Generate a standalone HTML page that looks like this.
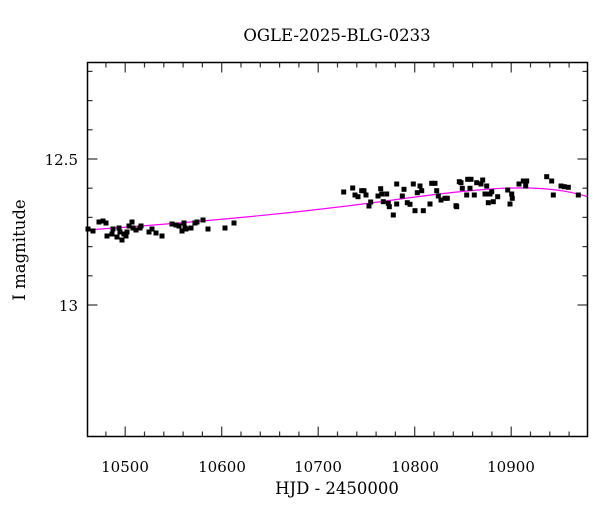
<!DOCTYPE html>
<html><head><meta charset="utf-8"><style>
html,body{margin:0;padding:0;background:#fff;}
svg{display:block;}
text{font-family:"DejaVu Serif","Liberation Serif",serif;fill:#000;}
</style></head><body>
<svg width="600" height="512" viewBox="0 0 600 512" xmlns="http://www.w3.org/2000/svg">
<rect width="600" height="512" fill="#fff"/>
<text x="337" y="41" font-size="16.5" text-anchor="middle">OGLE-2025-BLG-0233</text>
<text x="337" y="494" font-size="16.5" text-anchor="middle">HJD - 2450000</text>
<text transform="translate(25,250) rotate(-90)" font-size="16.5" text-anchor="middle">I magnitude</text>
<g font-size="15" text-anchor="middle">
<text x="125" y="472">10500</text><text x="222" y="472">10600</text><text x="318" y="472">10700</text><text x="415" y="472">10800</text><text x="511" y="472">10900</text>
</g>
<g font-size="15" text-anchor="end">
<text x="78" y="165">12.5</text><text x="78" y="311">13</text>
</g>
<g id="ticks" stroke="#333" stroke-width="1.2"></g>
<path d="M87,230 C200,222 300,213 400,199 C460,191 500,187 530,188 C560,189 575,193 587,196.5" fill="none" stroke="#ff00ff" stroke-width="1.2"/>
<g id="pts" fill="#000"></g>
<rect x="87.5" y="62.5" width="500" height="374" fill="none" stroke="#000" stroke-width="1.5"/>
</svg>
<script>
var ns="http://www.w3.org/2000/svg";
var t=document.getElementById("ticks");
function ln(x1,y1,x2,y2){var l=document.createElementNS(ns,"line");l.setAttribute("x1",x1);l.setAttribute("y1",y1);l.setAttribute("x2",x2);l.setAttribute("y2",y2);t.appendChild(l);}
for(var v=10480;v<=10970;v+=20){var x=125.2+(v-10500)*0.965;var L=(v%100==0)?10:5;ln(x,436.5,x,436.5-L);ln(x,62.5,x,62.5+L);}
for(var k=-3;k<=4;k++){var y=159+k*29.2;var L=(k==0)?10:5;ln(87.5,y,87.5+L,y);ln(587.5,y,587.5-L,y);}
ln(87.5,305,97.5,305);ln(587.5,305,577.5,305);
var P=[[88,229],[93,231],[99,222],[103,221],[106,223],[107,236],[112,234],[113,229],[117,237],[119,228],[120,232],[122,240],[124,234],[126,236],[127,232],[129,226],[132,222],[133,228],[136,230],[140,228],[141,226],[149,232],[152,229],[156,233],[162,236],[172,224],[176,225],[179,226],[182,231],[184,223],[185,228],[186,229],[191,228],[195,223],[197,222],[203,220],[208,229],[225,228],[234,223],
[343.7,192],[352.7,188],[355,195],[358,196.7],[361.7,190.7],[364,190.7],[366,195],[370.7,202],[369,206],[378,196],[380.7,188.7],[381.7,194],[386.7,194],[383.3,201.7],[388.3,203.3],[389.3,206.7],[393.3,215],[396.7,184],[396.7,204],[402.3,196],[404,189.3],[407.3,202.7],[410,204.3],[413.3,184],[415,210.7],[417.3,192.7],[420,186],[421.7,190.7],[423.3,210.7],[430,204],[431.7,183.3],[435,183.3],[436.7,190.7],[438.3,196],[441,200],[445,198.3],[447.3,198.3],[456,205.7],[459.3,181.7],
[456.7,206.7],[461,182.7],[462.3,188.3],[467.7,179.3],[471,179.3],[470,188.3],[466.7,195],[474.3,195],[476.7,182.7],[482.7,180],[481,184],[486.7,186],[485,194],[490,194],[491.7,191.7],[488.3,202.7],[493.3,201.7],[497.7,196.7],[507.7,190],[511.7,194],[512.3,198.3],[510,204],[519,184],[523.3,181],[526.7,181],[525.7,186],[546.7,176.7],[551.7,181],[561,186],[564.3,186.7],[568.3,187.3],[553.3,195],[578.3,195]];
var g=document.getElementById("pts");
P.forEach(function(p){var r=document.createElementNS(ns,"rect");r.setAttribute("x",p[0]-2.5);r.setAttribute("y",p[1]-2.5);r.setAttribute("width",5);r.setAttribute("height",5);g.appendChild(r);});
</script>
</body></html>
